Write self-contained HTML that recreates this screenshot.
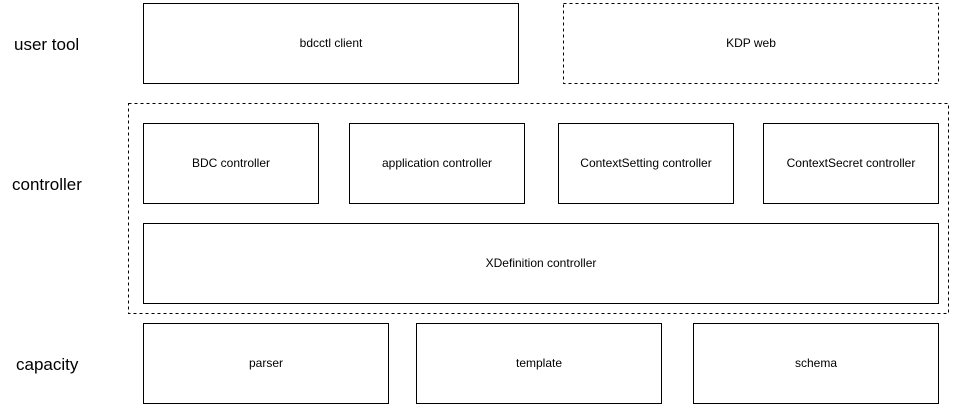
<!DOCTYPE html>
<html><head><meta charset="utf-8"><style>
html,body{margin:0;padding:0;background:#fff;}
svg{display:block;}
text{font-family:"Liberation Sans",Helvetica,Arial,sans-serif;fill:#000;}
.s{font-size:12px;text-anchor:middle;dominant-baseline:middle;}
.l{font-size:17px;}
</style></head><body>
<svg width="956" height="411" viewBox="0 0 956 411" xmlns="http://www.w3.org/2000/svg">
<g fill="none" stroke="#000" stroke-width="1">
<rect x="143.5" y="3.5" width="375" height="80"/>
<rect x="563.5" y="3.5" width="375" height="80" stroke-dasharray="3 3"/>
<rect x="128.5" y="103.5" width="820" height="210" stroke-dasharray="3 3"/>
<rect x="143.5" y="123.5" width="175" height="80"/>
<rect x="349.5" y="123.5" width="175" height="80"/>
<rect x="558.5" y="123.5" width="175" height="80"/>
<rect x="763.5" y="123.5" width="175" height="80"/>
<rect x="143.5" y="223.5" width="795" height="80"/>
<rect x="143.5" y="323.5" width="245" height="80"/>
<rect x="416.5" y="323.5" width="245" height="80"/>
<rect x="693.5" y="323.5" width="245" height="80"/>
</g>
<text class="l" x="14" y="50">user tool</text>
<text class="l" x="12" y="190">controller</text>
<text class="l" x="16" y="370">capacity</text>
<text class="s" x="331" y="44">bdcctl client</text>
<text class="s" x="751" y="44">KDP web</text>
<text class="s" x="231" y="164">BDC controller</text>
<text class="s" x="437" y="164">application controller</text>
<text class="s" x="646" y="164">ContextSetting controller</text>
<text class="s" x="851" y="164">ContextSecret controller</text>
<text class="s" x="541" y="264">XDefinition controller</text>
<text class="s" x="266" y="364">parser</text>
<text class="s" x="539" y="364">template</text>
<text class="s" x="816" y="364">schema</text>
</svg>
</body></html>
